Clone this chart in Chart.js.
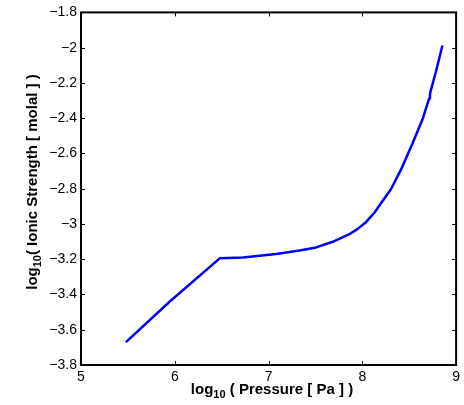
<!DOCTYPE html>
<html>
<head>
<meta charset="utf-8">
<script src="https://cdn.jsdelivr.net/npm/chart.js@4/dist/chart.umd.min.js"></script>
<style>
  html, body { margin: 0; padding: 0; background: #fff; }
  #wrap { width: 464px; height: 405px; }
</style>
</head>
<body>
<div id="wrap"><canvas id="chart"></canvas></div>
<script>
// values
const logPressure = [5.479, 5.947, 6.479, 6.727, 7.082, 7.330, 7.507, 7.684, 7.862, 7.950, 8.039, 8.130, 8.216, 8.305, 8.412, 8.535, 8.641, 8.713, 8.721, 8.729, 8.784, 8.854];
const logIonic = [-3.670, -3.440, -3.195, -3.190, -3.171, -3.151, -3.133, -3.101, -3.058, -3.028, -2.990, -2.935, -2.870, -2.803, -2.692, -2.544, -2.408, -2.288, -2.265, -2.245, -2.138, -1.988];
const xTicks = [5, 6, 7, 8, 9];
const yTicks = [-3.8, -3.6, -3.4, -3.2, -3, -2.8, -2.6, -2.4, -2.2, -2, -1.8];

const FONT = '"Liberation Sans", Arial, Helvetica, sans-serif';

function fmt(v) {
    const s = String(Math.round(v * 10) / 10);
    return s.replace('-', '\u2212');
}

// draws a label like log10( ... ) with a subscript
function drawLogTitle(ctx, rest, space) {
    const big = 'bold 15px ' + FONT;
    const small = 'bold 11px ' + FONT;
    ctx.font = big;
    const w1 = ctx.measureText('log').width;
    ctx.font = small;
    const w2 = ctx.measureText('10').width;
    ctx.font = big;
    const w3 = ctx.measureText(space + rest).width;
    const total = w1 + w2 + w3;
    let x = -total / 2;
    ctx.textBaseline = 'middle';
    ctx.textAlign = 'left';
    ctx.fillText('log', x, 0);
    x += w1;
    ctx.font = small;
    ctx.fillText('10', x, 5);
    x += w2;
    ctx.font = big;
    ctx.fillText(space + rest, x, 0);
}

const framePlugin = {
    id: 'frame',
    afterDraw(chart) {
        const ctx = chart.ctx;
        const a = chart.chartArea;
        const xs = chart.scales.x;
        const ys = chart.scales.y;
        const tl = 4;
        ctx.save();
        ctx.strokeStyle = '#000';
        ctx.lineWidth = 1;
        xTicks.forEach(v => {
            const px = Math.round(xs.getPixelForValue(v)) + 0.5;
            ctx.beginPath();
            ctx.moveTo(px, a.bottom); ctx.lineTo(px, a.bottom - tl);
            ctx.moveTo(px, a.top); ctx.lineTo(px, a.top + tl);
            ctx.stroke();
        });
        yTicks.forEach(v => {
            const py = Math.round(ys.getPixelForValue(v)) + 0.5;
            ctx.beginPath();
            ctx.moveTo(a.left, py); ctx.lineTo(a.left + tl, py);
            ctx.moveTo(a.right, py); ctx.lineTo(a.right - tl, py);
            ctx.stroke();
        });
        ctx.lineWidth = 2;
        ctx.strokeRect(a.left, a.top, a.right - a.left, a.bottom - a.top);

        ctx.fillStyle = '#000';
        ctx.save();
        ctx.translate(272, 390);
        drawLogTitle(ctx, '( Pressure [ Pa ] )', ' ');
        ctx.restore();
        ctx.save();
        ctx.translate(33, 182);
        ctx.rotate(-Math.PI / 2);
        drawLogTitle(ctx, '( Ionic Strength [ molal ] )', '');
        ctx.restore();
        ctx.restore();
    }
};

new Chart(document.getElementById('chart'), {
    type: 'scatter',
    data: {
        datasets: [{
            data: logPressure.map((x, i) => ({ x: x, y: logIonic[i] })),
            showLine: true,
            borderColor: '#0000ff',
            borderWidth: 2.5,
            borderJoinStyle: 'round',
            pointRadius: 0,
            tension: 0,
            fill: false
        }]
    },
    options: {
        responsive: true,
        maintainAspectRatio: false,
        animation: false,
        layout: { padding: { top: 10, right: 7, left: 0, bottom: 0 } },
        plugins: { legend: { display: false }, tooltip: { enabled: false } },
        scales: {
            x: {
                type: 'linear', min: 5, max: 9,
                afterBuildTicks: s => { s.ticks = xTicks.map(v => ({ value: v })); },
                afterFit: s => { s.height = 40; },
                grid: { display: false, drawTicks: false },
                border: { display: false },
                ticks: { padding: 4, color: '#000', font: { family: FONT, size: 14 }, maxRotation: 0, callback: v => fmt(v) }
            },
            y: {
                type: 'linear', min: -3.8, max: -1.8,
                afterBuildTicks: s => { s.ticks = yTicks.map(v => ({ value: v })); },
                afterFit: s => { s.width = 81; },
                grid: { display: false, drawTicks: false },
                border: { display: false },
                ticks: { padding: 4, color: '#000', font: { family: FONT, size: 14 }, callback: v => fmt(v) }
            }
        }
    },
    plugins: [framePlugin]
});
</script>
</body>
</html>
